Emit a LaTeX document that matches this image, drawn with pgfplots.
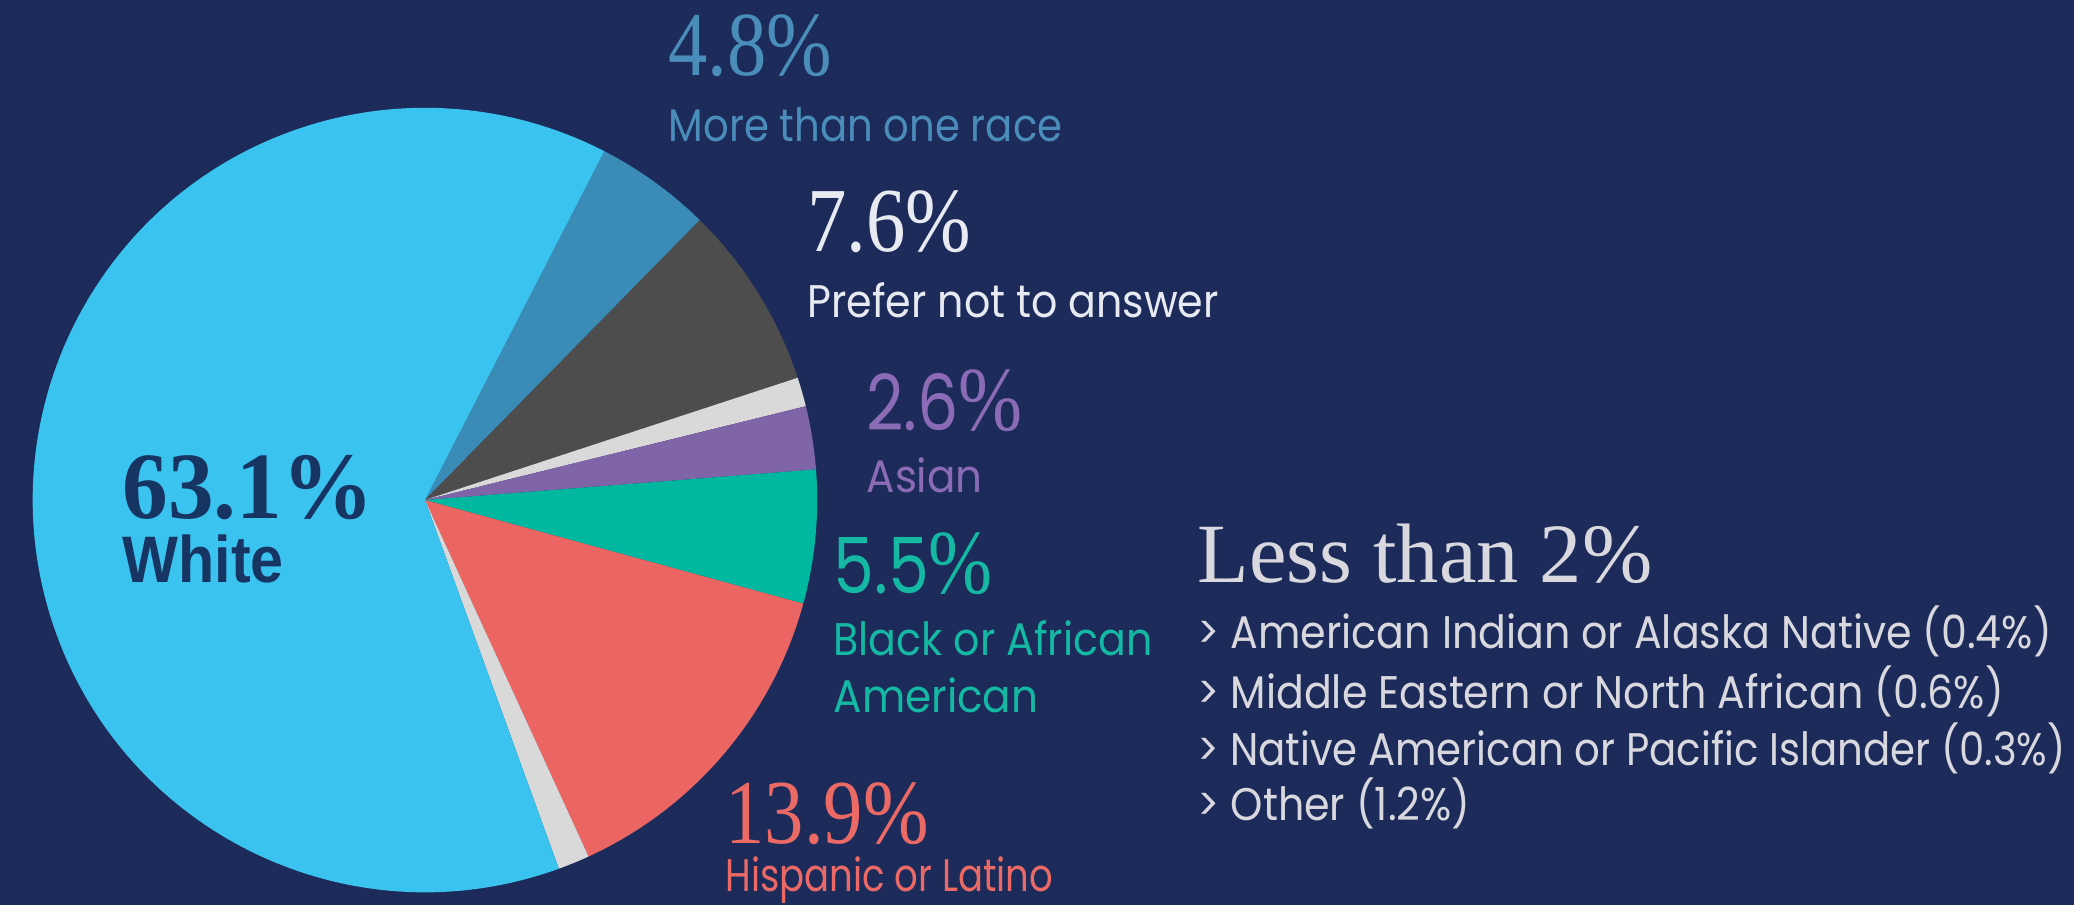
\documentclass[border=0pt]{standalone}
\usepackage{pgfplots}
\pgfplotsset{compat=1.18}
\usepackage{pgfplotstable}
\usepackage{fontspec}
\setmainfont{Liberation Serif}
\newfontfamily\geo{Poppins}
\newfontfamily\arial{Liberation Sans}

\definecolor{bgnavy}{HTML}{1C2B5A}
\definecolor{cWhite}{HTML}{3BC3F0}
\definecolor{cMore}{HTML}{3A8BB5}
\definecolor{cPrefer}{HTML}{4D4D4D}
\definecolor{cLight}{HTML}{D9D9D9}
\definecolor{cAsian}{HTML}{8064A8}
\definecolor{cBlack}{HTML}{00B8A0}
\definecolor{cHisp}{HTML}{EB6662}
\definecolor{tMore}{HTML}{4A8DBA}
\definecolor{tPrefer}{HTML}{E8EAF2}
\definecolor{tAsian}{HTML}{8B6BB5}
\definecolor{tBlack}{HTML}{14B8A3}
\definecolor{tHisp}{HTML}{EC6A66}
\definecolor{tWhite}{HTML}{163563}
\definecolor{tLess}{HTML}{D8D8DE}

% share of respondents, clockwise from the top
\pgfplotstableread{
share colour
4.8 cMore
7.6 cPrefer
1.2 cLight
2.6 cAsian
5.5 cBlack
13.9 cHisp
1.3 cLight
63.1 cWhite
}\slices

\tikzset{
    base/.style={inner sep=0pt, anchor=base west},
    pct/.style={base, font=\fontsize{26}{30}\selectfont, xscale=0.86},
    gpct/.style={base, font=\geo\fontsize{22}{26}\selectfont, xscale=0.84},
    lab/.style={base, font=\geo\fontsize{13}{15}\selectfont},
}
\newcommand\serifpct{{\rmfamily\fontsize{26}{30}\selectfont\%}}

\begin{document}
\begin{tikzpicture}
\begin{axis}[
    x=0.01cm, y=0.01cm,
    xmin=0, xmax=2074, ymin=0, ymax=905,
    hide axis,
]
\fill[bgnavy] (axis cs:0,0) rectangle (axis cs:2074,905);

\def\angstart{62.8}
\pgfplotstablegetrowsof{\slices}
\pgfmathtruncatemacro\lastrow{\pgfplotsretval-1}
\pgfplotsforeachungrouped \i in {0,...,\lastrow}{
    \pgfplotstablegetelem{\i}{share}\of\slices \let\sh\pgfplotsretval
    \pgfplotstablegetelem{\i}{colour}\of\slices \let\co\pgfplotsretval
    \pgfmathsetmacro\angend{\angstart-3.6*\sh}
    \edef\temp{\noexpand\fill[\co] (axis cs:425,405) -- ++(\angstart:3.92cm)
        arc[start angle=\angstart, end angle=\angend, radius=3.92cm] -- cycle;}
    \temp
    \let\angstart\angend
}

\node[pct, text=tMore] at (axis cs:668,830) {4.8\%};
\node[lab, text=tMore, xscale=0.88] at (axis cs:668,764) {More than one race};
\node[pct, text=tPrefer] at (axis cs:807,654) {7.6\%};
\node[lab, text=tPrefer, xscale=0.9] at (axis cs:807,588) {Prefer not to answer};
\node[gpct, text=tAsian] at (axis cs:866,475) {2.6\serifpct};
\node[lab, text=tAsian, xscale=0.92] at (axis cs:866,413) {Asian};
\node[gpct, text=tBlack] at (axis cs:833,312) {5.5\serifpct};
\node[lab, text=tBlack, xscale=0.9] at (axis cs:833,250) {Black or African};
\node[lab, text=tBlack, xscale=0.92] at (axis cs:833,193) {American};
\node[pct, text=tHisp] at (axis cs:725,62) {13.9\%};
\node[lab, text=tHisp, xscale=0.81] at (axis cs:725,14) {Hispanic or Latino};
\node[base, text=tWhite, font=\bfseries\fontsize{27}{30}\selectfont, xscale=0.96] at (axis cs:122,387) {63.1\%};
\node[base, text=tWhite, font=\arial\bfseries\fontsize{18.7}{22}\selectfont, xscale=0.9] at (axis cs:122,323) {White};

\node[base, text=tLess, font=\fontsize{24}{28}\selectfont] at (axis cs:1197,323) {Less than 2\%};
\node[lab, text=tLess, xscale=0.9] at (axis cs:1197,257) {> American Indian or Alaska Native (0.4\%)};
\node[lab, text=tLess, xscale=0.9] at (axis cs:1197,197) {> Middle Eastern or North African (0.6\%)};
\node[lab, text=tLess, xscale=0.88] at (axis cs:1197,140) {> Native American or Pacific Islander (0.3\%)};
\node[lab, text=tLess, xscale=0.9] at (axis cs:1197,85) {> Other (1.2\%)};
\end{axis}
\end{tikzpicture}
\end{document}
